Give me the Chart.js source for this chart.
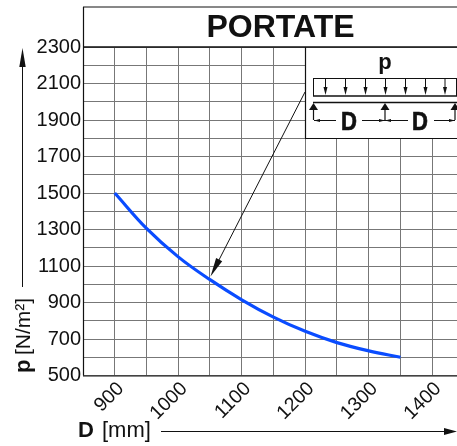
<!DOCTYPE html>
<html>
<head>
<meta charset="utf-8">
<title>Portate</title>
<script src="https://cdn.jsdelivr.net/npm/chart.js@4"></script>
<style>
    html, body { margin: 0; padding: 0; background: #fff; overflow: hidden; }
    #wrap { position: relative; width: 457px; height: 446px; }
</style>
</head>
<body>
<div id="wrap"><canvas id="chart" width="457" height="446"></canvas></div>
<script>
const spans = [900, 950, 1000, 1050, 1100, 1150, 1200, 1250, 1300, 1350];
const loads = [1500, 1306, 1150, 1025, 915, 820, 742, 680, 635, 600];
const xTickLabels = [900, 1000, 1100, 1200, 1300, 1400];
const yTickLabels = [500, 700, 900, 1100, 1300, 1500, 1700, 1900, 2100, 2300];
const chartTitle = 'PORTATE';
const FONT = '"Liberation Sans", Arial, sans-serif';
const INK = '#111';

function line(ctx, x1, y1, x2, y2, width) {
    ctx.lineWidth = width || 1;
    ctx.beginPath();
    ctx.moveTo(x1, y1);
    ctx.lineTo(x2, y2);
    ctx.stroke();
}

// filled arrow head with its tip at (x, y), pointing along angle
function head(ctx, x, y, angle, len, half) {
    ctx.save();
    ctx.translate(x, y);
    ctx.rotate(angle);
    ctx.beginPath();
    ctx.moveTo(0, 0);
    ctx.lineTo(-len, -half);
    ctx.lineTo(-len, half);
    ctx.closePath();
    ctx.fill();
    ctx.restore();
}

function text(ctx, str, x, y, font, align) {
    ctx.font = font;
    ctx.textAlign = align || 'left';
    ctx.textBaseline = 'alphabetic';
    ctx.fillText(str, x, y);
}

/* frame, title and axis captions */
function drawFrame(ctx, area) {
    ctx.strokeStyle = '#111';
    line(ctx, area.left + 0.5, 7, area.left + 0.5, area.bottom, 1.2);
    line(ctx, area.left, 7, area.right, 7, 1);
    line(ctx, area.left, area.top, area.right, area.top, 1.5);
    line(ctx, area.left, area.bottom + 0.5, area.right, area.bottom + 0.5, 1.2);
    text(ctx, chartTitle, 280.5, 37, 'bold 32px ' + FONT, 'center');
}

function drawCaptions(ctx) {
    text(ctx, 'D', 78, 437, 'bold 22px ' + FONT);
    text(ctx, '[mm]', 102, 437, '22px ' + FONT);
    line(ctx, 161, 431.5, 447, 431.5, 1);
    head(ctx, 457, 431.5, 0, 13, 3.5);

    ctx.save();
    ctx.translate(30, 373);
    ctx.rotate(-Math.PI / 2);
    text(ctx, 'p', 0, 0, 'bold 22px ' + FONT);
    text(ctx, '[N/m²]', 18, 0, '21px ' + FONT);
    ctx.restore();
    line(ctx, 22.5, 287, 22.5, 62, 1);
    head(ctx, 22.5, 48, -Math.PI / 2, 19, 3.2);
}

/* beam sketch in the top right corner */
function drawInset(ctx, area) {
    const left = 305, bottom = 138;
    ctx.fillStyle = '#fff';
    ctx.fillRect(left, area.top + 1, area.right - left, bottom - area.top - 1);
    ctx.fillStyle = INK;
    ctx.strokeStyle = INK;
    line(ctx, left + 0.5, area.top, left + 0.5, bottom, 1.2);
    line(ctx, left, bottom + 0.5, area.right, bottom + 0.5, 1.2);

    text(ctx, 'p', 385, 69, 'bold 22px ' + FONT, 'center');

    line(ctx, 313.5, 78.5, 456, 78.5, 1);
    line(ctx, 313.5, 78, 313.5, 96, 1);
    line(ctx, 456.5, 78, 456.5, 96, 1);
    line(ctx, 313, 96, 457, 96, 1.6);
    [325, 345, 365, 385, 405, 425, 444.5].forEach(x => {
        line(ctx, x + 0.5, 79, x + 0.5, 88, 1);
        head(ctx, x + 0.5, 95, Math.PI / 2, 8, 2);
    });

    line(ctx, 313, 102.5, 457, 102.5, 1.4);
    [313.5, 385, 455].forEach(x => {
        head(ctx, x, 103, -Math.PI / 2, 7, 4.5);
        line(ctx, x, 109, x, 120, 1.2);
    });

    [[314, 336], [362, 385], [385, 408], [434, 455]].forEach(seg => line(ctx, seg[0], 120.5, seg[1], 120.5, 1));
    head(ctx, 314, 120.5, Math.PI, 6, 1.5);
    head(ctx, 385, 120.5, 0, 6, 1.5);
    head(ctx, 385, 120.5, Math.PI, 6, 1.5);
    head(ctx, 455, 120.5, 0, 6, 1.5);

    [349, 420].forEach(x => {
        ctx.save();
        ctx.translate(x, 130);
        ctx.scale(0.85, 1);
        text(ctx, 'D', 0, 0, 'bold 26px ' + FONT, 'center');
        ctx.lineWidth = 0.7;
        ctx.strokeText('D', 0, 0);
        ctx.restore();
    });

    // leader from the sketch down to the curve
    const tipX = 210.5, tipY = 276.5, fromX = 305, fromY = 92;
    const ang = Math.atan2(tipY - fromY, tipX - fromX);
    line(ctx, fromX, fromY, tipX - 12 * Math.cos(ang), tipY - 12 * Math.sin(ang), 1);
    head(ctx, tipX, tipY, ang, 19, 3.4);
}

const sketchPlugin = {
    id: 'sketch',
    afterDatasetsDraw(chart) {
        const ctx = chart.ctx;
        ctx.save();
        ctx.fillStyle = INK;
        drawFrame(ctx, chart.chartArea);
        drawCaptions(ctx);
        drawInset(ctx, chart.chartArea);
        ctx.restore();
    }
};

new Chart(document.getElementById('chart').getContext('2d'), {
    type: 'line',
    data: {
        datasets: [{
            data: spans.map((d, i) => ({ x: d, y: loads[i] })),
            borderColor: '#0a4cff',
            borderWidth: 3.2,
            pointRadius: 0,
            tension: 0.4,
            fill: false
        }]
    },
    options: {
        responsive: false,
        animation: false,
        devicePixelRatio: 1,
        layout: { padding: { top: 47, right: 0, left: 0, bottom: 0 } },
        plugins: {
            legend: { display: false },
            tooltip: { enabled: false }
        },
        scales: {
            x: {
                type: 'linear',
                min: 850,
                max: 1439,
                afterFit: s => { s.height = 70.5; },
                grid: { color: '#777', lineWidth: 1, drawTicks: false },
                border: { display: false },
                ticks: {
                    stepSize: 50,
                    autoSkip: false,
                    includeBounds: false,
                    minRotation: 45,
                    maxRotation: 45,
                    padding: 2,
                    labelOffset: 6,
                    color: INK,
                    font: { family: FONT, size: 19.5 },
                    callback: v => xTickLabels.includes(v) ? String(v) : ''
                }
            },
            y: {
                type: 'linear',
                min: 500,
                max: 2300,
                afterFit: s => { s.width = 83; },
                grid: { color: '#777', lineWidth: 1, drawTicks: false },
                border: { display: false },
                ticks: {
                    stepSize: 100,
                    autoSkip: false,
                    padding: 2,
                    color: INK,
                    font: { family: FONT, size: 20 },
                    callback: v => yTickLabels.includes(v) ? String(v) : ''
                }
            }
        }
    },
    plugins: [sketchPlugin]
});
</script>
</body>
</html>
